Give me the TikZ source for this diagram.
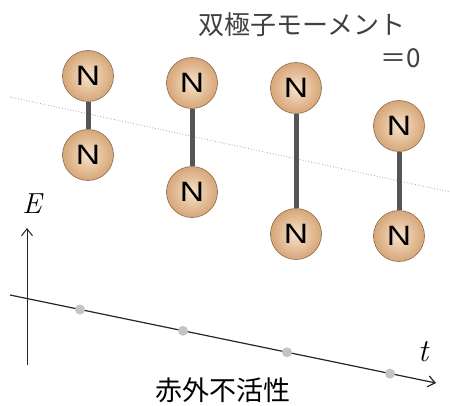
\documentclass[tikz,border=0pt]{standalone}
\usepackage{fontspec}
\usetikzlibrary{arrows.meta}
\newfontfamily\nfont{Liberation Sans}
\newfontfamily\jpfont{Noto Sans CJK JP}
\definecolor{ballin}{HTML}{F8E2CA}
\definecolor{ballout}{HTML}{D6A678}
\definecolor{balledge}{HTML}{8C6A50}
\definecolor{bondc}{HTML}{555555}
\definecolor{dotc}{HTML}{C4C4C4}
\tikzset{
  atom/.style={circle, minimum size=51pt, inner sep=0pt, draw=balledge, line width=0.6pt,
    inner color=ballin, outer color=ballout,
    font=\nfont\fontsize{28}{28}\selectfont},
  bond/.style={draw=bondc, line width=5pt},
  axis/.style={draw=black!85, line width=1pt, -{Straight Barb[length=7pt,width=11pt]}},
  tdot/.style={circle, fill=dotc, minimum size=10pt, inner sep=0pt},
}
\newcommand{\Nlab}{\scalebox{1.2}[1]{N}}
\begin{document}
\begin{tikzpicture}[x=1pt,y=-1pt]
\useasboundingbox (0,0) rectangle (450,405);
% dotted reference line
\coordinate (d1) at (10,97);
\coordinate (d2) at (450,192);
\draw[gray!70, dotted, line width=0.8pt] (d1) -- (d2);
% molecules
\node[atom] (a1) at (88,76) {\Nlab};
\node[atom] (b1) at (88,155) {\Nlab};
\node[atom] (a2) at (192,83) {\Nlab};
\node[atom] (b2) at (192,192) {\Nlab};
\node[atom] (a3) at (296,88) {\Nlab};
\node[atom] (b3) at (296,234) {\Nlab};
\node[atom] (a4) at (399,126) {\Nlab};
\node[atom] (b4) at (399,236) {\Nlab};
\draw[bond] (a1) -- (b1);
\draw[bond] (a2) -- (b2);
\draw[bond] (a3) -- (b3);
\draw[bond] (a4) -- (b4);
% text
\node[font=\jpfont\fontsize{26}{26}\selectfont, text=black!75, inner sep=0pt] (dip) at (302,25) {双極子モーメント};
\node[font=\jpfont\fontsize{26}{26}\selectfont, text=black!75, inner sep=0pt] (zero) at (401,58) {＝0};
% axes
\coordinate (e0) at (27,365);
\coordinate (e1) at (27,228);
\draw[axis] (e0) -- (e1);
\node[font=\fontsize{29}{29}\selectfont\itshape, inner sep=0pt] (E) at (32,204) {E};
\coordinate (t0) at (10,295);
\coordinate (t1) at (436,383);
\draw[axis, line width=1.2pt] (t0) -- (t1);
\node[font=\fontsize{32}{32}\selectfont\itshape, inner sep=0pt] (T) at (423,352) {t};
\node[tdot] (p1) at (80,309.5) {};
\node[tdot] (p2) at (183,330.8) {};
\node[tdot] (p3) at (287,352.3) {};
\node[tdot] (p4) at (390,373.6) {};
\node[font=\jpfont\fontsize{27}{27}\selectfont, inner sep=0pt] (ir) at (223,390) {赤外不活性};
\end{tikzpicture}
\end{document}
